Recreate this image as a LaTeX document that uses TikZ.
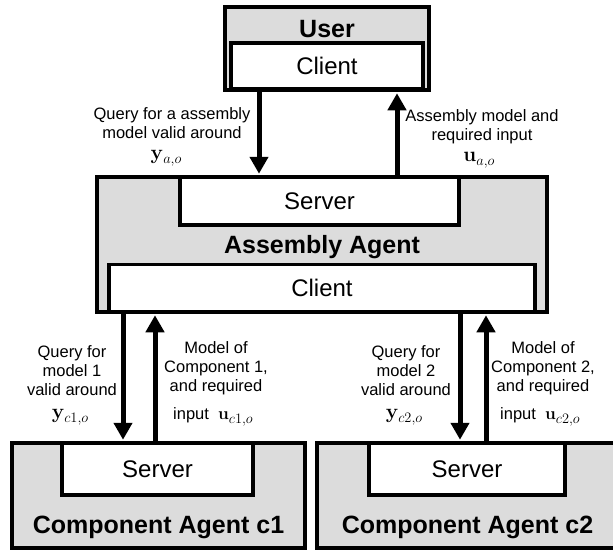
\documentclass[tikz,border=0pt]{standalone}
\usepackage[no-math]{fontspec}
\setmainfont{Liberation Sans}
\usetikzlibrary{arrows.meta}
\definecolor{agentgray}{HTML}{DCDCDC}
\newcommand\vlab[2]{$\mathbf{#1}$\raisebox{-4pt}{\fontsize{14.5}{15}\selectfont$#2$}}
\begin{document}
\begin{tikzpicture}[x=1pt,y=-1pt,
  agentbox/.style={draw,line width=3.5pt,fill=agentgray,inner sep=0pt},
  portbox/.style={draw,line width=3.2pt,fill=white,inner sep=0pt,
    font=\fontsize{24}{28}\selectfont},
  titletext/.style={font=\fontsize{25}{29}\selectfont\bfseries,inner sep=0pt},
  lbl/.style={font=\fontsize{16.5}{19}\selectfont,align=center,inner sep=0pt},
  mlbl/.style={font=\fontsize{20}{20}\selectfont,inner sep=0pt},
  flow/.style={line width=5pt,-{Triangle[width=18pt,length=17pt]}}]
\useasboundingbox (0,0) rectangle (613,552);

% User
\node[agentbox,minimum width=204pt,minimum height=83pt] (user) at (327,48.5) {};
\node[titletext] (usertitle) at (327,29) {User};
\node[portbox,minimum width=192pt,minimum height=46pt] (uclient) at (327,66) {Client};

% Assembly agent
\node[agentbox,minimum width=450pt,minimum height=135pt] (aa) at (322,244.5) {};
\node[portbox,minimum width=279pt,minimum height=48pt] (aserver) at (319.5,201) {Server};
\node[titletext] (aatitle) at (322,247) {Assembly Agent};
\node[portbox,minimum width=426pt,minimum height=47pt] (aclient) at (322,288) {Client};

% Component agents
\node[agentbox,minimum width=293pt,minimum height=105pt] (ca1) at (158.5,495.5) {};
\node[portbox,minimum width=191pt,minimum height=52pt] (c1server) at (157.5,469) {Server};
\node[titletext] (c1title) at (158.5,527) {Component Agent c1};

\node[agentbox,minimum width=298pt,minimum height=105pt] (ca2) at (466,495.5) {};
\node[portbox,minimum width=196pt,minimum height=52pt] (c2server) at (467,469) {Server};
\node[titletext] (c2title) at (467.5,527) {Component Agent c2};

% arrow columns
\coordinate (xq) at (259,0);
\coordinate (xr) at (397,0);
\coordinate (xq1) at (123,0);
\coordinate (xr1) at (155,0);
\coordinate (xq2) at (460,0);
\coordinate (xr2) at (486,0);

\draw[flow,shorten >=1.5pt] (user.south -| xq) -- (aa.north -| xq);
\draw[flow,shorten >=1.5pt] (aa.north -| xr) -- (user.south -| xr);
\draw[flow,shorten >=1.5pt] (aa.south -| xq1) -- (ca1.north -| xq1);
\draw[flow,shorten >=1.5pt] (ca1.north -| xr1) -- (aa.south -| xr1);
\draw[flow,shorten >=1.5pt] (aa.south -| xq2) -- (ca2.north -| xq2);
\draw[flow,shorten >=1.5pt] (ca2.north -| xr2) -- (aa.south -| xr2);

% labels
\node[lbl] (lq) at (172,123) {Query for a assembly\\model valid around};
\node[mlbl] (lqy) at (166,158) {\vlab{y}{a{,}o}};
\node[lbl] (lr) at (482,127) {Assembly model and\\required input};
\node[mlbl] (lru) at (479,160) {\vlab{u}{a{,}o}};

\node[lbl] (lq1) at (72,371) {Query for\\model 1\\valid around};
\node[mlbl] (lq1y) at (70,417) {\vlab{y}{c1{,}o}};
\node[lbl,anchor=north] (lr1) at (216,341) {Model of\\Component 1,\\and required};
\node[lbl] (lr1u) at (213,417) {input \ \vlab{u}{c1{,}o}};

\node[lbl] (lq2) at (406,371) {Query for\\model 2\\valid around};
\node[mlbl] (lq2y) at (404,417) {\vlab{y}{c2{,}o}};
\node[lbl,anchor=north] (lr2) at (543,341) {Model of\\Component 2,\\and required};
\node[lbl] (lr2u) at (540,417) {input \ \vlab{u}{c2{,}o}};
\end{tikzpicture}
\end{document}
